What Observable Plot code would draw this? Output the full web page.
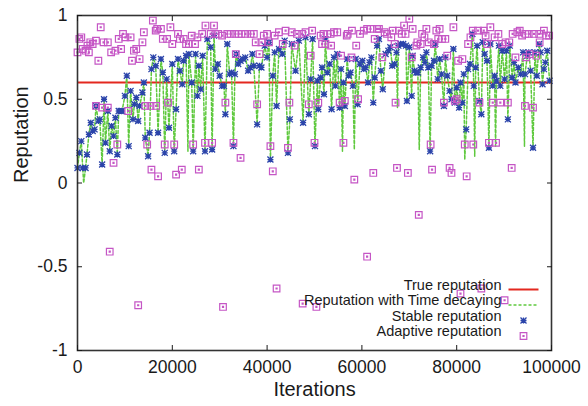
<!DOCTYPE html>
<html><head><meta charset="utf-8">
<script src="https://cdn.jsdelivr.net/npm/d3@7"></script>
<script src="https://cdn.jsdelivr.net/npm/@observablehq/plot@0.6"></script>
<style>body{margin:0;background:#fff}svg{display:block}</style>
</head><body><div id="chart"></div>
<script>
const xTicks = [0, 20000, 40000, 60000, 80000, 100000];
const yTicks = [-1, -0.5, 0, 0.5, 1];
const trueRep = 0.6;
const legendLabels = ["True reputation", "Reputation with Time decaying", "Stable reputation", "Adaptive reputation"];

const stable = [[0,0.09],[400,0.18],[800,0.25],[1100,0.09],[1700,0.09],[2000,0.17],[2400,0.29],[2800,0.36],[3200,0.31],[3600,0.32],[3900,0.46],[4400,0.37],[4700,0.38],[5200,0.11],[5600,0.50],[5900,0.24],[6400,0.43],[6800,0.19],[7200,0.34],[7600,0.28],[8000,0.39],[8400,0.17],[8700,0.43],[9100,0.43],[9400,0.43],[10000,0.52],[10400,0.64],[10800,0.22],[11200,0.55],[11700,0.38],[12000,0.47],[12400,0.51],[12800,0.37],[13100,0.46],[13700,0.54],[14000,0.60],[14300,0.27],[14900,0.16],[15200,0.30],[15600,0.68],[16000,0.75],[16500,0.70],[17000,0.30],[17600,0.74],[18000,0.66],[18400,0.18],[18800,0.62],[19300,0.33],[20000,0.71],[20400,0.19],[20800,0.44],[21200,0.74],[21600,0.67],[22100,0.59],[22400,0.73],[22900,0.76],[23500,0.77],[24100,0.60],[24400,0.19],[24900,0.77],[25300,0.52],[25600,0.70],[26000,0.56],[26400,0.76],[26900,0.19],[27400,0.86],[28100,0.81],[28400,0.20],[28800,0.88],[29100,0.68],[29600,0.71],[30000,0.64],[30500,0.58],[30900,0.58],[31200,0.41],[31600,0.83],[32100,0.65],[32500,0.66],[32900,0.22],[33200,0.65],[33500,0.77],[33900,0.71],[34400,0.73],[34900,0.74],[35400,0.75],[36000,0.67],[36500,0.69],[36900,0.77],[37200,0.70],[37900,0.35],[38400,0.70],[38800,0.69],[39500,0.82],[40000,0.75],[40400,0.84],[40700,0.14],[41200,0.64],[41600,0.78],[42000,0.46],[42500,0.80],[43200,0.77],[43700,0.85],[44400,0.18],[44800,0.38],[45200,0.83],[46000,0.67],[46700,0.85],[47600,0.36],[48100,0.87],[48800,0.41],[49200,0.62],[49600,0.86],[50100,0.22],[50600,0.61],[50800,0.44],[51300,0.63],[51600,0.69],[52000,0.53],[52300,0.86],[52700,0.66],[53200,0.71],[53600,0.44],[54100,0.75],[54400,0.58],[54800,0.77],[55300,0.45],[55600,0.68],[56100,0.60],[56400,0.46],[56900,0.74],[57200,0.64],[57600,0.66],[58100,0.58],[58700,0.74],[59100,0.47],[59600,0.71],[60100,0.73],[60400,0.68],[60800,0.69],[61300,0.60],[61600,0.72],[62000,0.75],[62400,0.48],[62700,0.63],[63200,0.82],[63600,0.86],[64000,0.67],[64400,0.56],[65000,0.77],[65600,0.79],[66000,0.81],[66400,0.70],[66900,0.71],[67300,0.78],[67700,0.82],[68200,0.83],[68700,0.83],[69300,0.82],[69500,0.49],[70000,0.81],[70500,0.52],[70700,0.76],[71100,0.67],[71500,0.66],[71800,0.66],[72400,0.69],[72900,0.75],[73300,0.72],[73600,0.78],[74000,0.69],[74400,0.19],[74700,0.70],[75200,0.73],[75500,0.83],[76000,0.62],[76400,0.74],[76800,0.65],[77300,0.46],[77600,0.75],[78000,0.64],[78500,0.55],[78900,0.50],[79300,0.80],[79600,0.48],[80000,0.57],[80500,0.45],[80800,0.60],[81200,0.48],[81500,0.65],[82000,0.32],[82400,0.68],[82800,0.71],[83300,0.89],[83600,0.58],[84000,0.69],[84300,0.82],[84800,0.49],[85200,0.41],[85500,0.84],[85900,0.77],[86400,0.73],[86800,0.21],[87100,0.83],[87600,0.58],[88000,0.64],[88400,0.61],[88900,0.82],[89200,0.58],[89600,0.79],[90100,0.62],[90500,0.79],[90800,0.38],[91200,0.82],[91700,0.63],[92100,0.72],[92400,0.60],[93000,0.69],[93500,0.65],[94000,0.78],[94400,0.65],[94900,0.76],[95200,0.78],[95600,0.67],[96100,0.21],[96500,0.78],[96900,0.64],[97400,0.83],[97700,0.78],[98100,0.59],[98400,0.68],[98700,0.72],[99100,0.79],[99600,0.61]];

const decayDips = [[1300,0.0],[23300,0.19],[55900,0.19],[58400,0.20],[67500,0.45],[72100,0.20],[81700,0.14],[83800,0.16],[88200,0.22],[94300,0.22]];

const adaptive = [[0,0.78],[400,0.86],[800,0.87],[1100,0.80],[1700,0.79],[2100,0.82],[2400,0.78],[2700,0.84],[3200,0.83],[3900,0.85],[4400,0.73],[4900,0.93],[5500,0.84],[6400,0.84],[7100,0.78],[8000,0.79],[8700,0.86],[9200,0.80],[9600,0.89],[10100,0.87],[11200,0.87],[11500,0.73],[11900,0.79],[12400,0.80],[13100,0.74],[13700,0.84],[14000,0.90],[15900,0.97],[16500,0.91],[16800,0.92],[17600,0.92],[18000,0.86],[18900,0.86],[19600,0.93],[20000,0.83],[21200,0.89],[21600,0.86],[22400,0.86],[22900,0.83],[23500,0.83],[24100,0.88],[24800,0.83],[25300,0.87],[26300,0.89],[27000,0.94],[28100,0.89],[28800,0.94],[29100,0.89],[29700,0.89],[30500,0.88],[31600,0.89],[32300,0.89],[33300,0.89],[33400,0.77],[34000,0.89],[34600,0.89],[35400,0.89],[36500,0.89],[37200,0.89],[37600,0.84],[38400,0.77],[38800,0.84],[39300,0.88],[40000,0.89],[40400,0.84],[41600,0.88],[42500,0.90],[43300,0.83],[43900,0.91],[45200,0.90],[45800,0.82],[46300,0.89],[47400,0.89],[48100,0.90],[49200,0.76],[49500,0.91],[51300,0.88],[51600,0.83],[51900,0.89],[52300,0.83],[52700,0.89],[53400,0.89],[53500,0.82],[54100,0.90],[54800,0.90],[55600,0.76],[56800,0.88],[57000,0.89],[57800,0.75],[57900,0.91],[58800,0.82],[59600,0.89],[60400,0.91],[61100,0.92],[61800,0.92],[62700,0.86],[63200,0.92],[63600,0.92],[64300,0.75],[64800,0.90],[65300,0.89],[66200,0.87],[66500,0.91],[66900,0.83],[67800,0.91],[68400,0.89],[68900,0.94],[69200,0.89],[70000,0.98],[70500,0.75],[70700,0.92],[71500,0.82],[71700,0.84],[72400,0.83],[72700,0.89],[73200,0.87],[73600,0.92],[74100,0.84],[75200,0.83],[75700,0.91],[76100,0.86],[76400,0.92],[76900,0.86],[77600,0.86],[78000,0.76],[79300,0.93],[80300,0.73],[81200,0.74],[82400,0.83],[82900,0.87],[83400,0.91],[84500,0.91],[85700,0.91],[86100,0.88],[86400,0.83],[87100,0.93],[88000,0.87],[88800,0.89],[89600,0.83],[90300,0.84],[91100,0.84],[91800,0.89],[92400,0.75],[92800,0.90],[93300,0.91],[93800,0.88],[94500,0.89],[94600,0.75],[95200,0.89],[95400,0.77],[96300,0.89],[96800,0.76],[97400,0.89],[97500,0.84],[98400,0.91],[98900,0.88],[99500,0.88],
[3900,0.46],[5200,0.45],[6400,0.45],[7600,0.12],[8400,0.23],[10700,0.43],[14300,0.46],[14700,0.23],[15400,0.46],[15600,0.08],[16600,0.46],[17000,0.04],[18400,0.23],[19100,0.48],[20400,0.23],[20800,0.05],[22000,0.08],[24400,0.23],[25600,0.08],[26900,0.24],[28400,0.24],[31200,0.48],[32900,0.24],[34400,0.15],[37900,0.47],[40700,0.22],[41200,0.07],[44400,0.21],[44700,0.48],[48800,0.47],[50000,0.24],[50800,0.48],[55300,0.48],[56100,0.24],[56400,0.49],[58400,0.02],[59200,0.50],[62400,0.06],[67100,0.48],[67400,0.09],[69700,0.06],[74500,0.23],[74800,0.08],[77300,0.48],[78500,0.09],[78900,0.06],[79600,0.49],[80000,0.50],[81700,0.23],[82100,0.04],[83500,0.23],[84800,0.48],[86800,0.24],[87600,0.48],[88300,0.24],[89200,0.48],[90800,0.48],[91600,0.09],[94400,0.46],[96100,0.45],
[6800,-0.41],[12800,-0.73],[30700,-0.74],[42000,-0.63],[47500,-0.72],[50400,-0.74],[61100,-0.44],[72000,-0.19],[80800,-0.66],[85200,-0.63],[90100,-0.70]];

const decay = stable.concat(decayDips).sort((a, b) => a[0] - b[0]);

const RED = "#e3281f", GREEN = "#5fc93e", BLUE = "#2b44aa", MAGENTA = "#c556c5";

const star = {draw(ctx, size) {
  const r = Math.sqrt(size / Math.PI);
  ctx.moveTo(-r, 0); ctx.lineTo(r, 0);
  ctx.moveTo(0, -r); ctx.lineTo(0, r);
  ctx.moveTo(-r, -r); ctx.lineTo(r, r);
  ctx.moveTo(-r, r); ctx.lineTo(r, -r);
}};
const box = {draw(ctx, size) {
  const r = Math.sqrt(size / Math.PI);
  ctx.moveTo(-r, -r); ctx.lineTo(r, -r); ctx.lineTo(r, r); ctx.lineTo(-r, r); ctx.closePath();
  ctx.moveTo(-0.5, -0.5); ctx.lineTo(0.5, -0.5); ctx.lineTo(0.5, 0.5); ctx.lineTo(-0.5, 0.5); ctx.closePath();
}};
const hline = {draw(ctx) { ctx.moveTo(-15, 0); ctx.lineTo(15, 0); }};

const legendDy = [-61, -45.5, -30, -14.5];
const font = "'Liberation Sans', Arial, Helvetica, sans-serif";

const chart = Plot.plot({
  width: 588, height: 406,
  marginLeft: 77, marginRight: 37, marginTop: 15, marginBottom: 56,
  x: {domain: [0, 100000]},
  y: {domain: [-1, 1]},
  style: {fontFamily: font, fontSize: "17.5px", color: "#1a1a1a", background: "#fff"},
  marks: [
    Plot.ruleY([trueRep], {stroke: RED, strokeWidth: 2}),
    Plot.line(decay, {x: d => d[0], y: d => d[1], stroke: GREEN, strokeWidth: 1.5, strokeDasharray: "3,2"}),
    Plot.dot(stable, {x: d => d[0], y: d => d[1], symbol: star, r: 3, stroke: BLUE, strokeWidth: 1.3, fill: "none"}),
    Plot.dot(adaptive, {x: d => d[0], y: d => d[1], symbol: box, r: 3.3, stroke: MAGENTA, strokeWidth: 1.2, fill: "none"}),
    Plot.frame({stroke: "#333", strokeWidth: 1.6}),
    Plot.axisX({ticks: xTicks, anchor: "bottom", tickSize: -5, tickPadding: 15, tickFormat: d => String(d), label: null, fontSize: 17.5}),
    Plot.axisX({ticks: xTicks, anchor: "top", tickSize: -5, tickFormat: () => "", label: null}),
    Plot.axisY({ticks: yTicks, anchor: "left", tickSize: -5, tickPadding: 15, tickFormat: d => String(d), label: null, fontSize: 17.5}),
    Plot.axisY({ticks: yTicks, anchor: "right", tickSize: -5, tickFormat: () => "", label: null}),
    Plot.text(["Reputation"], {frameAnchor: "left", rotate: -90, dx: -56, fontSize: 20}),
    Plot.text(["Iterations"], {frameAnchor: "bottom", dy: 45, fontSize: 20}),
    ...legendLabels.map((t, i) => Plot.text([t], {frameAnchor: "bottom-right", dx: -50, dy: legendDy[i], textAnchor: "end", fontSize: 14.5})),
    Plot.dot([legendLabels[0]], {frameAnchor: "bottom-right", dx: -28, dy: legendDy[0], symbol: hline, stroke: RED, strokeWidth: 2, fill: "none"}),
    Plot.dot([legendLabels[1]], {frameAnchor: "bottom-right", dx: -28, dy: legendDy[1], symbol: hline, stroke: GREEN, strokeWidth: 1.5, strokeDasharray: "3,2", fill: "none"}),
    Plot.dot([legendLabels[2]], {frameAnchor: "bottom-right", dx: -28, dy: legendDy[2], symbol: star, r: 3, stroke: BLUE, strokeWidth: 1.3, fill: "none"}),
    Plot.dot([legendLabels[3]], {frameAnchor: "bottom-right", dx: -28, dy: legendDy[3], symbol: box, r: 3.3, stroke: MAGENTA, strokeWidth: 1.2, fill: "none"})
  ]
});
document.getElementById("chart").appendChild(chart);
</script>
</body></html>
